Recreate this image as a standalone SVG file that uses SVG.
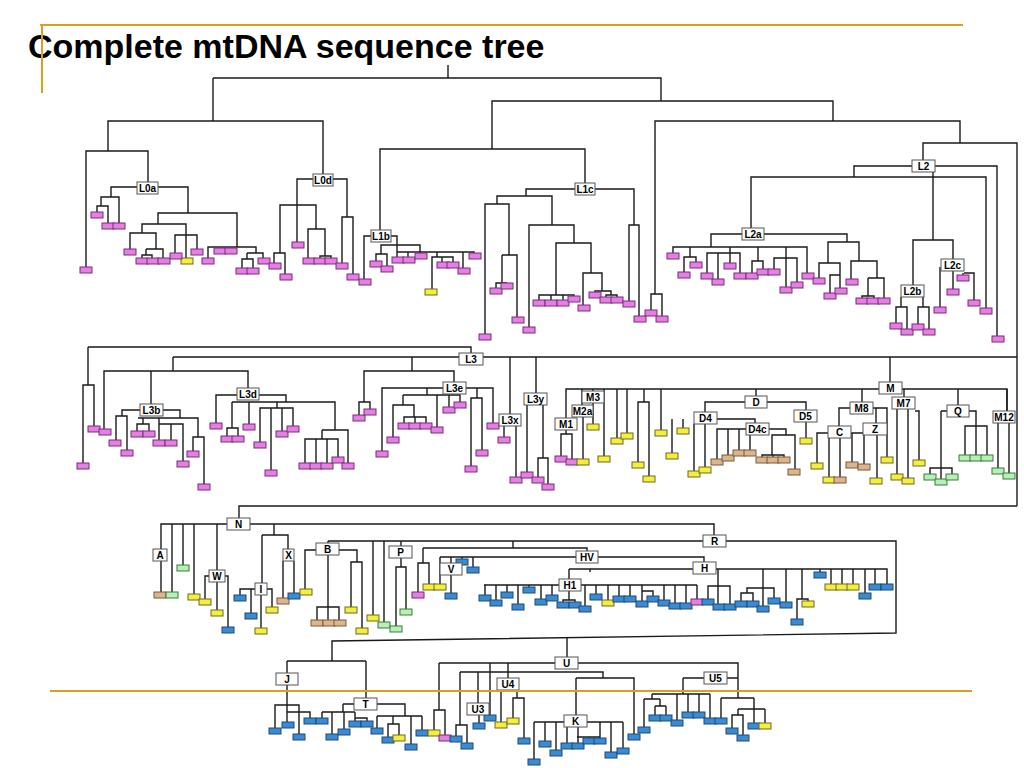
<svg xmlns="http://www.w3.org/2000/svg" xmlns:xlink="http://www.w3.org/1999/xlink" width="1024" height="768" viewBox="0 0 1024 768">
<style>
.bg{fill:#fff}
.title{font-family:"Liberation Sans",Arial,sans-serif;font-weight:bold;font-size:34px;fill:#000}
.ln{fill:none;stroke:#1a1a1a;stroke-width:1.4}
.or{stroke:#d9a020;stroke-width:2;fill:none}
.p{fill:#e57fe3;stroke:#7b2c7b}
.y{fill:#f4ef3c;stroke:#6e6820}
.t{fill:#dcb48e;stroke:#7a5a3a}
.g{fill:#b6f0b4;stroke:#3d7a3d}
.b{fill:#3a8bd4;stroke:#1d4a75}
use{stroke-width:1}
.nd rect{fill:#fff;stroke:#555;stroke-width:1}
.nd text{font-family:"Liberation Sans",Arial,sans-serif;font-weight:bold;font-size:10px;fill:#000;text-anchor:middle}
</style>
<defs><rect id="lf" width="12" height="6"/></defs>
<rect class="bg" width="1024" height="768"/>
<text class="title" x="28" y="58">Complete mtDNA sequence tree</text>

<g id="connectors" class="ln">
<path d="M448,65V78 M213,78H661V101 M213,78V121 M108,151V121H323V174 M86,267V151H148V182 M111,197V187H137 M158,187H188V213 M101,206V197H119V223 M97,212V206H108V223 M158,224V213H237V247 M142,233V224H186V258 M130,249V233H156V249 M146,249H163V258 M146,249V255 M142,258V255H152V258 M175,253V235H197V249 M208,258V247H256V253 M247,253H263V258 M247,253V259 M242,268V259H253V268"/>
<path d="M297,242V179H313 M333,179H347V217 M280,253V205H316V229 M274,263V253H285V274 M308,258V229H325V256 M320,258V256H331V258 M342,263V217H353V274"/>
<path d="M492,149V101H833V121 M655,294V121H960V143 M923,160V143H1017V506 M651,310V294H662V316 M380,230V149H585V183"/>
<path d="M364,279V236H371 M391,236H397V257 M397,252H474V253 M381,254V245H420V253 M376,261V254H387V266 M408,252V257 M437,252V257 M432,289V257H453V262 M442,257V262 M463,252V268"/>
<path d="M526,196V189H575 M594,189H634V225 M497,204V196H552V225 M485,334V204H509V255 M502,255H517V317 M502,255V283 M496,288V283H507 M529,327V225H574V243 M556,295V243H591V273 M539,300V295H574V296 M551,295V300 M563,295V300 M583,305V273H602V291 M595,292V291H611V295 M606,297V295H617V297 M629,301V225H639V316"/>
<path d="M912,166H854V177 M935,166H997V336 M751,228V177H986V308 M933,172V240 M913,285V240H953V259 M742,234H711V247 M764,234H847V242 M673,253V247H807V273 M690,247V257 M684,272V257H696V262 M730,247V253 M707,273V253H740V273 M718,253V279 M730,253V263 M758,247V261 M752,273V261H763V269 M786,247V287 M774,269V258H797V282 M828,263V242H859V261 M819,278V263H840V288 M830,293V275H840 M851,279V261H877V278 M868,278H884V298 M868,278V296 M862,298V296H874V298 M901,297V307 M896,323V307H907V329 M923,297V307 M918,324V307H929V329 M940,267V307 M953,271V289 M964,273H974V300 M963,273V275"/>
<path d="M88,347H471V353 M88,347V385 M83,463V385H94V426 M173,357V371 M104,429V371H248V388 M151,371V404 M483,357H1017 M173,357H459 M122,416V410H140 M163,410H180V418 M116,440V416H127V450 M138,418H198V437 M143,418V424 M137,431V424H149V431 M159,418V440 M159,424H183V461 M171,424V440 M193,451V437H204V484"/>
<path d="M216,423V395H237 M259,395H286V402 M232,402H335V430 M232,402V428 M227,436V428H238V436 M249,402V424 M277,402V408 M260,442V408H293V426 M271,408V470 M282,408V431 M322,430H348V463 M322,430V439 M305,463V439H338V457 M316,439V463 M327,439V463"/>
<path d="M412,357V371 M364,402V371H454V382 M359,415V402H370V409 M382,451V388H443 M466,388H493V423 M427,388V395 M403,395H460V402 M403,395V405 M393,437V405H414V417 M404,423V417H426V423 M415,417V423 M437,395V427 M449,395V407 M477,388V398 M471,466V398H482V450 M510,357V414 M504,426V437 M516,426V477 M536,357V393 M527,405V472 M543,405V458 M538,477V458H548V484"/>
<path d="M890,357V382 M566,418V389H879 M902,389H1007V411 M566,430V434 M561,456V434H572V459 M582,389V405 M583,417V459 M593,389V391 M593,403V424 M604,389V456 M617,389V438 M627,389V433 M644,389V402 M638,462V402H649V476 M661,389V430 M672,419V453 M683,419V428"/>
<path d="M756,389V396 M705,412V402H745 M767,402H806V410 M694,424V471 M705,424V467 M717,419H755V423 M717,459V429H746 M769,429H786V435 M728,429V455 M739,429V450 M750,435V450 M772,455V435H795V469 M762,457V455H784V457 M773,455V457 M806,422V438"/>
<path d="M862,389V402 M839,426V408H850 M873,408H887V457 M876,408V423 M817,463V433H828 M851,433H864V464 M829,438V477 M840,438V477 M852,433V462 M877,435V478 M904,389V397 M897,409V474 M908,409V478 M915,411H919V460 M958,389V405 M941,411H947 M969,411H976V426 M941,411V468 M930,474V468H952V474 M941,468V479 M965,455V426H987V455 M976,426V455 M1007,389V411 M998,423V468 M1009,423V473"/>
<path d="M1017,506H239V518 M161,549V524H227 M250,524H714V535 M161,561V592 M172,524V592 M183,524V565 M194,524V594 M217,524V570 M205,599V576H209 M225,576H228V627 M217,582V610 M274,524V535 M262,535H288V549 M262,535V583 M240,595V589H255 M267,589H272V607 M251,589V613 M261,595V628 M283,561V598 M294,561V593"/>
<path d="M328,541H703 M726,541H896V633L332,641V661 M328,541V543 M305,589V550H316 M339,550H357V562 M328,555V607 M317,620V607H339V620 M328,607V620 M351,607V562H362V628 M373,541V615 M384,541V622 M401,541V546 M401,558V567 M396,626V567H406V609"/>
<path d="M513,541V548 M423,548H587V551 M423,548V563 M418,592V563H429V584 M440,557H576 M440,557V584 M451,557V563 M451,575V593 M462,557V559 M473,557V567 M598,557H704V562 M569,569H693 M716,569H887V584 M569,569V579 M590,569V572"/>
<path d="M484,585H559 M581,585H697 M485,585V595 M496,585V600 M507,585V592 M518,585V604 M529,585V587 M541,585V599 M552,585V595 M569,591V600 M563,602V600H575V602 M585,585V606 M596,585V594 M608,585V600 M619,585V596 M630,585V596 M642,585V601 M642,591H653V596 M664,585V600 M675,585V603 M686,585V603 M697,585V599"/>
<path d="M718,569V604 M708,599V586H730V604 M763,569V606 M747,593V588H774V598 M741,601V593H753V601 M786,569V602 M802,569V599 M797,619V599H808V601 M820,569V572 M831,569V584 M842,569V584 M853,569V584 M865,569V593 M875,569V584"/>
<path d="M287,661H366 M287,661V673 M366,661V698 M567,638V657 M287,685V722 M275,728V705H299V734 M287,712H310V718 M343,704H354 M343,704V712 M322,712H355 M322,712V718 M332,712V734 M344,712V729 M355,712V718H367V721 M355,718V721 M377,704H405V716 M377,716H422 M377,716V728 M393,716V724 M388,737V724H399V735 M411,716V744 M422,716V730"/>
<path d="M439,663H555 M578,663H738V698 M439,663V710 M434,730V710H445V735 M490,663V715 M508,663V672 M460,672H603V678 M460,672V725 M456,736V725H467V743 M478,672V703 M479,715V723 M508,672V678 M501,690V722 M517,690V698 M513,718V698H524V738 M576,678H634V734 M576,678V715"/>
<path d="M534,722H564 M587,722H623 M534,722V759 M545,722V741 M556,722V750 M567,727V743 M578,727V743 M577,737H600 M589,737V738 M600,722V738 M611,722V752 M623,722V748"/>
<path d="M727,678H738 M683,678H704 M683,678V694 M652,694H710 M652,694V699 M644,699H660 M644,699V727 M660,699V706 M655,706H666 M655,706V715 M666,706V715 M677,694V720 M688,694V712 M699,694V712 M710,694V718 M721,698H754 M721,698V718 M754,698V709 M738,709H765 M738,709V715 M732,728V715H743V735 M754,709V723 M765,709V723"/>
</g>

<g id="leaves-L0" class="p">
<use href="#lf" x="80" y="267"/><use href="#lf" x="91" y="212"/><use href="#lf" x="102" y="223"/><use href="#lf" x="113" y="223"/><use href="#lf" x="124" y="249"/><use href="#lf" x="136" y="258"/><use href="#lf" x="147" y="258"/><use href="#lf" x="158" y="258"/><use href="#lf" class="y" x="181" y="258"/><use href="#lf" x="170" y="253"/><use href="#lf" x="191" y="249"/><use href="#lf" x="202" y="258"/><use href="#lf" x="214" y="248"/><use href="#lf" x="225" y="248"/><use href="#lf" x="236" y="268"/><use href="#lf" x="247" y="268"/><use href="#lf" x="258" y="258"/>
<use href="#lf" x="269" y="263"/><use href="#lf" x="280" y="274"/><use href="#lf" x="292" y="242"/><use href="#lf" x="303" y="258"/><use href="#lf" x="314" y="258"/><use href="#lf" x="325" y="258"/><use href="#lf" x="336" y="263"/><use href="#lf" x="347" y="274"/>
</g>
<g id="leaves-L1" class="p">
<use href="#lf" x="359" y="279"/><use href="#lf" x="370" y="261"/><use href="#lf" x="381" y="266"/><use href="#lf" x="392" y="257"/><use href="#lf" x="403" y="257"/><use href="#lf" x="415" y="253"/><use href="#lf" class="y" x="425" y="289"/><use href="#lf" x="437" y="262"/><use href="#lf" x="447" y="262"/><use href="#lf" x="458" y="268"/><use href="#lf" x="469" y="253"/>
<use href="#lf" x="479" y="334"/><use href="#lf" x="490" y="288"/><use href="#lf" x="501" y="283"/><use href="#lf" x="512" y="317"/><use href="#lf" x="523" y="327"/><use href="#lf" x="533" y="300"/><use href="#lf" x="545" y="300"/><use href="#lf" x="557" y="300"/><use href="#lf" x="568" y="296"/><use href="#lf" x="578" y="305"/><use href="#lf" x="589" y="292"/><use href="#lf" x="600" y="297"/><use href="#lf" x="611" y="297"/><use href="#lf" x="623" y="301"/><use href="#lf" x="634" y="316"/>
</g>
<g id="leaves-L2" class="p">
<use href="#lf" x="645" y="310"/><use href="#lf" x="656" y="316"/>
<use href="#lf" x="667" y="253"/><use href="#lf" x="678" y="272"/><use href="#lf" x="690" y="262"/><use href="#lf" x="701" y="273"/><use href="#lf" x="712" y="279"/><use href="#lf" x="724" y="263"/><use href="#lf" x="734" y="273"/><use href="#lf" x="746" y="273"/><use href="#lf" x="757" y="269"/><use href="#lf" x="768" y="269"/><use href="#lf" x="780" y="287"/><use href="#lf" x="791" y="282"/><use href="#lf" x="802" y="273"/><use href="#lf" x="813" y="278"/><use href="#lf" x="824" y="293"/><use href="#lf" x="835" y="288"/><use href="#lf" x="846" y="279"/><use href="#lf" x="856" y="298"/><use href="#lf" x="867" y="298"/><use href="#lf" x="878" y="298"/>
<use href="#lf" x="890" y="323"/><use href="#lf" x="901" y="329"/><use href="#lf" x="912" y="324"/><use href="#lf" x="923" y="329"/><use href="#lf" x="934" y="307"/><use href="#lf" x="947" y="289"/><use href="#lf" x="957" y="275"/><use href="#lf" x="968" y="300"/><use href="#lf" x="980" y="308"/><use href="#lf" x="992" y="336"/>
</g>
<g id="leaves-L3" class="p">
<use href="#lf" x="77" y="463"/><use href="#lf" x="88" y="426"/><use href="#lf" x="99" y="429"/>
<use href="#lf" x="109" y="440"/><use href="#lf" x="121" y="450"/><use href="#lf" x="131" y="431"/><use href="#lf" x="143" y="431"/><use href="#lf" x="153" y="440"/><use href="#lf" x="165" y="440"/><use href="#lf" x="177" y="461"/><use href="#lf" x="187" y="451"/><use href="#lf" x="198" y="484"/>
<use href="#lf" x="210" y="423"/><use href="#lf" x="221" y="436"/><use href="#lf" x="232" y="436"/><use href="#lf" x="243" y="424"/><use href="#lf" x="254" y="442"/><use href="#lf" x="265" y="470"/><use href="#lf" x="276" y="431"/><use href="#lf" x="287" y="426"/><use href="#lf" x="299" y="463"/><use href="#lf" x="310" y="463"/><use href="#lf" x="321" y="463"/><use href="#lf" x="332" y="457"/><use href="#lf" x="342" y="463"/>
<use href="#lf" x="353" y="415"/><use href="#lf" x="364" y="409"/><use href="#lf" x="376" y="451"/><use href="#lf" x="387" y="437"/><use href="#lf" x="398" y="423"/><use href="#lf" x="409" y="423"/><use href="#lf" x="420" y="423"/><use href="#lf" x="431" y="427"/><use href="#lf" x="443" y="407"/><use href="#lf" x="454" y="402"/><use href="#lf" x="465" y="466"/><use href="#lf" x="476" y="450"/><use href="#lf" x="487" y="423"/>
<use href="#lf" x="498" y="437"/><use href="#lf" x="510" y="477"/><use href="#lf" x="521" y="472"/><use href="#lf" x="532" y="477"/><use href="#lf" x="542" y="484"/>
</g>
<g id="leaves-M" class="y">
<use href="#lf" class="p" x="555" y="456"/><use href="#lf" class="p" x="566" y="459"/><use href="#lf" x="577" y="459"/><use href="#lf" x="587" y="424"/><use href="#lf" x="598" y="456"/><use href="#lf" x="611" y="438"/><use href="#lf" x="621" y="433"/><use href="#lf" x="632" y="462"/><use href="#lf" x="643" y="476"/><use href="#lf" x="655" y="430"/><use href="#lf" x="666" y="453"/><use href="#lf" x="677" y="428"/>
<use href="#lf" x="688" y="471"/><use href="#lf" x="699" y="467"/><use href="#lf" class="t" x="711" y="459"/><use href="#lf" class="t" x="722" y="455"/><use href="#lf" class="t" x="733" y="450"/><use href="#lf" class="t" x="744" y="450"/><use href="#lf" class="t" x="756" y="457"/><use href="#lf" class="t" x="767" y="457"/><use href="#lf" class="t" x="778" y="457"/><use href="#lf" class="t" x="788" y="469"/><use href="#lf" x="800" y="438"/>
<use href="#lf" x="811" y="463"/><use href="#lf" x="823" y="477"/><use href="#lf" class="t" x="834" y="477"/><use href="#lf" class="t" x="846" y="462"/><use href="#lf" class="t" x="858" y="464"/><use href="#lf" x="870" y="478"/><use href="#lf" x="881" y="457"/><use href="#lf" x="891" y="474"/><use href="#lf" x="902" y="478"/><use href="#lf" x="913" y="460"/>
<use href="#lf" class="g" x="924" y="474"/><use href="#lf" class="g" x="935" y="479"/><use href="#lf" class="g" x="946" y="474"/><use href="#lf" class="g" x="959" y="455"/><use href="#lf" class="g" x="970" y="455"/><use href="#lf" class="g" x="981" y="455"/><use href="#lf" class="g" x="992" y="468"/><use href="#lf" class="g" x="1003" y="473"/>
</g>
<g id="leaves-N" class="b">
<use href="#lf" class="t" x="154" y="592"/><use href="#lf" class="g" x="166" y="592"/><use href="#lf" class="g" x="177" y="565"/><use href="#lf" class="y" x="188" y="594"/><use href="#lf" class="y" x="199" y="599"/><use href="#lf" class="y" x="211" y="610"/><use href="#lf" x="222" y="627"/>
<use href="#lf" x="234" y="595"/><use href="#lf" x="245" y="613"/><use href="#lf" class="y" x="255" y="628"/><use href="#lf" class="y" x="266" y="607"/><use href="#lf" class="t" x="277" y="598"/><use href="#lf" x="288" y="593"/>
<use href="#lf" class="y" x="300" y="589"/><use href="#lf" class="t" x="311" y="620"/><use href="#lf" class="t" x="323" y="620"/><use href="#lf" class="t" x="334" y="620"/><use href="#lf" class="y" x="345" y="607"/><use href="#lf" class="y" x="356" y="628"/><use href="#lf" class="y" x="367" y="615"/><use href="#lf" class="g" x="378" y="622"/><use href="#lf" class="g" x="390" y="626"/><use href="#lf" class="g" x="400" y="609"/>
<use href="#lf" class="p" x="412" y="592"/><use href="#lf" class="y" x="423" y="584"/><use href="#lf" class="y" x="434" y="584"/><use href="#lf" x="445" y="593"/><use href="#lf" x="456" y="559"/><use href="#lf" x="467" y="567"/>
</g>
<g id="leaves-H" class="b">
<use href="#lf" x="479" y="595"/><use href="#lf" x="490" y="600"/><use href="#lf" x="501" y="592"/><use href="#lf" x="512" y="604"/><use href="#lf" x="523" y="587"/><use href="#lf" x="535" y="599"/><use href="#lf" x="546" y="595"/><use href="#lf" x="557" y="602"/><use href="#lf" x="569" y="602"/><use href="#lf" x="579" y="606"/><use href="#lf" x="590" y="594"/><use href="#lf" class="y" x="602" y="600"/><use href="#lf" x="613" y="596"/><use href="#lf" x="624" y="596"/><use href="#lf" x="636" y="601"/><use href="#lf" x="647" y="596"/><use href="#lf" x="658" y="600"/><use href="#lf" x="669" y="603"/><use href="#lf" x="680" y="603"/><use href="#lf" class="p" x="691" y="599"/>
<use href="#lf" x="702" y="599"/><use href="#lf" x="713" y="604"/><use href="#lf" x="724" y="604"/><use href="#lf" x="735" y="601"/><use href="#lf" x="747" y="601"/><use href="#lf" x="757" y="606"/><use href="#lf" x="768" y="598"/><use href="#lf" x="780" y="602"/><use href="#lf" x="791" y="619"/><use href="#lf" class="y" x="802" y="601"/><use href="#lf" x="814" y="572"/><use href="#lf" class="y" x="825" y="584"/><use href="#lf" class="y" x="836" y="584"/><use href="#lf" class="y" x="847" y="584"/><use href="#lf" x="859" y="593"/><use href="#lf" x="869" y="584"/><use href="#lf" x="881" y="584"/>
</g>
<g id="leaves-JTU" class="b">
<use href="#lf" x="269" y="728"/><use href="#lf" x="282" y="722"/><use href="#lf" x="293" y="734"/><use href="#lf" x="304" y="718"/>
<use href="#lf" x="316" y="718"/><use href="#lf" x="326" y="734"/><use href="#lf" x="338" y="729"/><use href="#lf" x="349" y="721"/><use href="#lf" x="361" y="721"/><use href="#lf" x="371" y="728"/><use href="#lf" x="382" y="737"/><use href="#lf" class="y" x="393" y="735"/><use href="#lf" x="405" y="744"/><use href="#lf" x="416" y="730"/>
<use href="#lf" class="y" x="428" y="730"/><use href="#lf" class="p" x="439" y="735"/><use href="#lf" x="450" y="736"/><use href="#lf" x="461" y="743"/><use href="#lf" x="473" y="723"/><use href="#lf" x="484" y="715"/><use href="#lf" class="y" x="495" y="722"/><use href="#lf" class="y" x="507" y="718"/><use href="#lf" x="518" y="738"/>
<use href="#lf" x="528" y="759"/><use href="#lf" x="539" y="741"/><use href="#lf" x="550" y="750"/><use href="#lf" x="561" y="743"/><use href="#lf" x="572" y="743"/><use href="#lf" x="583" y="738"/><use href="#lf" x="594" y="738"/><use href="#lf" x="605" y="752"/><use href="#lf" x="617" y="748"/><use href="#lf" x="628" y="734"/>
<use href="#lf" x="638" y="727"/><use href="#lf" x="649" y="715"/><use href="#lf" x="660" y="715"/><use href="#lf" x="671" y="720"/><use href="#lf" x="682" y="712"/><use href="#lf" x="693" y="712"/><use href="#lf" x="704" y="718"/><use href="#lf" x="715" y="718"/><use href="#lf" x="726" y="728"/><use href="#lf" x="737" y="735"/><use href="#lf" x="748" y="723"/><use href="#lf" class="y" x="759" y="723"/>
</g>

<g class="nd">
<g id="L0a"><rect x="137" y="182" width="21" height="12"/><text x="147.5" y="191.5">L0a</text></g>
<g id="L0d"><rect x="313" y="174" width="20" height="12"/><text x="323" y="183.5">L0d</text></g>
<g id="L1b"><rect x="371" y="230" width="20" height="12"/><text x="381" y="239.5">L1b</text></g>
<g id="L1c"><rect x="575" y="183" width="20" height="12"/><text x="585" y="192.5">L1c</text></g>
<g id="L2"><rect x="912" y="160" width="23" height="12"/><text x="923.5" y="169.5">L2</text></g>
<g id="L2a"><rect x="742" y="228" width="22" height="12"/><text x="753" y="237.5">L2a</text></g>
<g id="L2b"><rect x="901" y="285" width="23" height="12"/><text x="912.5" y="294.5">L2b</text></g>
<g id="L2c"><rect x="941" y="259" width="23" height="12"/><text x="952.5" y="268.5">L2c</text></g>
<g id="L3"><rect x="459" y="353" width="24" height="12"/><text x="471" y="362.5">L3</text></g>
<g id="L3b"><rect x="140" y="404" width="23" height="12"/><text x="151.5" y="413.5">L3b</text></g>
<g id="L3d"><rect x="237" y="388" width="22" height="12"/><text x="248" y="397.5">L3d</text></g>
<g id="L3e"><rect x="443" y="382" width="23" height="12"/><text x="454.5" y="391.5">L3e</text></g>
<g id="L3x"><rect x="499" y="414" width="22" height="12"/><text x="510" y="423.5">L3x</text></g>
<g id="L3y"><rect x="524" y="393" width="23" height="12"/><text x="535.5" y="402.5">L3y</text></g>
<g id="M"><rect x="879" y="382" width="23" height="12"/><text x="890.5" y="391.5">M</text></g>
<g id="M1"><rect x="555" y="418" width="22" height="12"/><text x="566" y="427.5">M1</text></g>
<g id="M2a"><rect x="572" y="405" width="21" height="12"/><text x="582.5" y="414.5">M2a</text></g>
<g id="M3"><rect x="582" y="391" width="22" height="12"/><text x="593" y="400.5">M3</text></g>
<g id="D"><rect x="745" y="396" width="22" height="12"/><text x="756" y="405.5">D</text></g>
<g id="D4"><rect x="694" y="412" width="23" height="12"/><text x="705.5" y="421.5">D4</text></g>
<g id="D4c"><rect x="746" y="423" width="23" height="12"/><text x="757.5" y="432.5">D4c</text></g>
<g id="D5"><rect x="794" y="410" width="23" height="12"/><text x="805.5" y="419.5">D5</text></g>
<g id="M8"><rect x="850" y="402" width="23" height="12"/><text x="861.5" y="411.5">M8</text></g>
<g id="C"><rect x="828" y="426" width="23" height="12"/><text x="839.5" y="435.5">C</text></g>
<g id="Z"><rect x="863" y="423" width="24" height="12"/><text x="875" y="432.5">Z</text></g>
<g id="M7"><rect x="892" y="397" width="23" height="12"/><text x="903.5" y="406.5">M7</text></g>
<g id="Q"><rect x="947" y="405" width="22" height="12"/><text x="958" y="414.5">Q</text></g>
<g id="M12"><rect x="993" y="411" width="22" height="12"/><text x="1004" y="420.5">M12</text></g>
<g id="N"><rect x="227" y="518" width="23" height="12"/><text x="238.5" y="527.5">N</text></g>
<g id="A"><rect x="153" y="549" width="14" height="12"/><text x="160" y="558.5">A</text></g>
<g id="W"><rect x="209" y="570" width="16" height="12"/><text x="217" y="579.5">W</text></g>
<g id="I"><rect x="255" y="583" width="12" height="12"/><text x="261" y="592.5">I</text></g>
<g id="X"><rect x="283" y="549" width="11" height="12"/><text x="288.5" y="558.5">X</text></g>
<g id="B"><rect x="316" y="543" width="23" height="12"/><text x="327.5" y="552.5">B</text></g>
<g id="P"><rect x="389" y="546" width="23" height="12"/><text x="400.5" y="555.5">P</text></g>
<g id="R"><rect x="703" y="535" width="23" height="12"/><text x="714.5" y="544.5">R</text></g>
<g id="HV"><rect x="576" y="551" width="22" height="12"/><text x="587" y="560.5">HV</text></g>
<g id="V"><rect x="440" y="563" width="22" height="12"/><text x="451" y="572.5">V</text></g>
<g id="H"><rect x="693" y="562" width="23" height="12"/><text x="704.5" y="571.5">H</text></g>
<g id="H1"><rect x="559" y="579" width="22" height="12"/><text x="570" y="588.5">H1</text></g>
<g id="J"><rect x="276" y="673" width="22" height="12"/><text x="287" y="682.5">J</text></g>
<g id="T"><rect x="354" y="698" width="23" height="12"/><text x="365.5" y="707.5">T</text></g>
<g id="U"><rect x="555" y="657" width="23" height="12"/><text x="566.5" y="666.5">U</text></g>
<g id="U3"><rect x="467" y="703" width="22" height="12"/><text x="478" y="712.5">U3</text></g>
<g id="U4"><rect x="497" y="678" width="22" height="12"/><text x="508" y="687.5">U4</text></g>
<g id="K"><rect x="564" y="715" width="23" height="12"/><text x="575.5" y="724.5">K</text></g>
<g id="U5"><rect x="704" y="672" width="23" height="12"/><text x="715.5" y="681.5">U5</text></g>
</g>

<g id="frame-lines" class="or">
<path d="M40,25H963 M42,25V93 M50,691H972"/>
</g>
</svg>
